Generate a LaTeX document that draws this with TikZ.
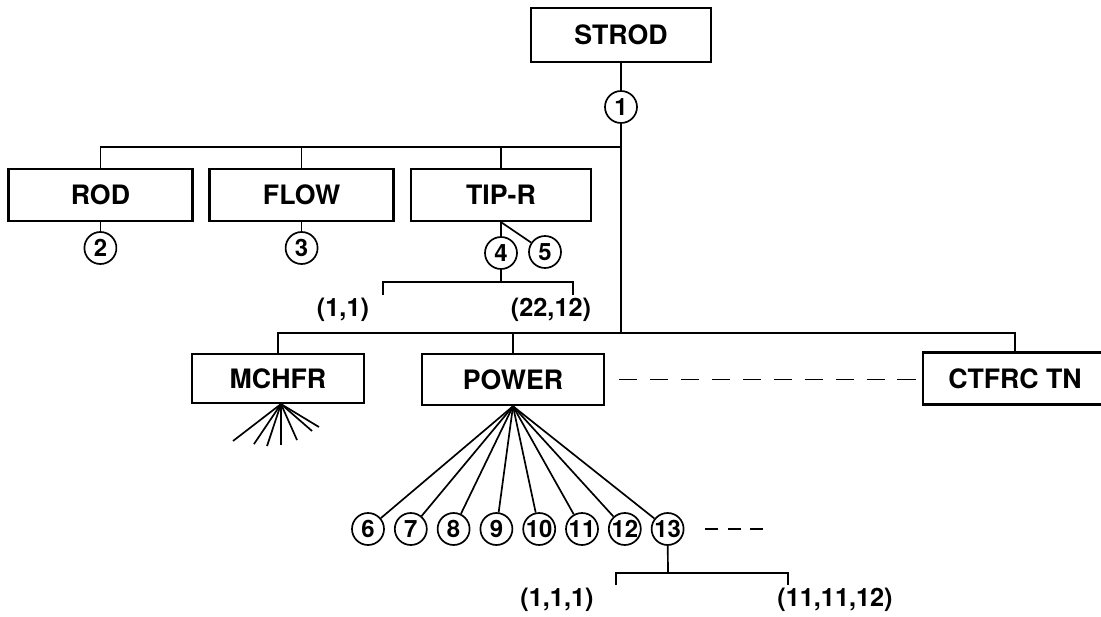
\documentclass[tikz,border=0pt]{standalone}
\usepackage{fontspec}
\setmainfont{TeX Gyre Heros}
\usetikzlibrary{positioning}

\tikzset{
  block/.style={draw, line width=1.6pt, minimum width=4.6cm, minimum height=1.3cm,
    inner sep=2pt, font=\fontsize{19}{22}\selectfont\bfseries},
  num/.style={draw, circle, line width=1.2pt, minimum size=0.8cm, inner sep=0pt,
    font=\fontsize{17}{20}\selectfont\bfseries},
  lbl/.style={font=\fontsize{18}{21}\selectfont\bfseries},
  link/.style={line width=1.2pt},
}

\begin{document}
\begin{tikzpicture}
	\useasboundingbox (0,0) rectangle (27.525,15.4);
	
	% top level
	\node[block, minimum width=4.5cm, minimum height=1.35cm] (strod) at (15.525,14.525) {STROD};
	\node[num] (c1) at (15.525,12.725) {1};
	
	% first row
	\node[block] (rod) at (2.51,10.525) {ROD};
	\node[block] (flow) at (7.54,10.525) {FLOW};
	\node[block, minimum width=4.5cm] (tipr) at (12.525,10.525) {TIP-R};
	
	\node[num] (c2) at (2.51,9.2) {2};
	\node[num] (c3) at (7.54,9.2) {3};
	\node[num] (c4) at (12.525,9.075) {4};
	\node[num] (c5) at (13.625,9.1) {5};
	
	% second row
	\node[block, minimum width=4.3cm, minimum height=1.225cm] (mchfr) at (6.95,5.94) {MCHFR};
	\node[block, minimum width=4.55cm, minimum height=1.275cm] (power) at (12.825,5.91) {POWER};
	\node[block] (ctfrc) at (25.375,5.94) {CTFRC TN};
	
	% bus lines
	\coordinate (topbus) at (15.525,11.725);
	\coordinate (lowbus) at (15.525,7.075);
	
	\draw[link] (strod) -- (c1);
	\draw[link] (c1) -- (lowbus);
	\draw[link] (rod.north) |- (topbus);
	\draw[link] (flow.north) -- (flow.north |- topbus);
	\draw[link] (tipr.north) -- (tipr.north |- topbus);
	\draw[link] (mchfr.north) |- (ctfrc.north |- lowbus) -- (ctfrc.north);
	\draw[link] (power.north) -- (power.north |- lowbus);
	
	\draw[link] (rod) -- (c2);
	\draw[link] (flow) -- (c3);
	\draw[link] (tipr) -- (c4);
	\draw[link] (tipr.south) -- (c5);
	
	% index range of TIP-R
	\coordinate (tipbr) at (12.525,8.35);
	\coordinate (tipL) at (9.575,8.025);
	\coordinate (tipR) at (14.325,8.025);
	\draw[link] (c4) -- (tipbr);
	\draw[link] (tipL) |- (tipbr) -| (tipR);
	\node[lbl] (l11) at (8.575,7.65) {(1,1)};
	\node[lbl] (l2212) at (13.775,7.65) {(22,12)};
	
	\draw[link, dash pattern=on 13pt off 9pt] ([xshift=0.35cm]power.east) -- (power.east -| ctfrc.west);
	
	% MCHFR fan
	\foreach \a/\l in {217.6/1.515, 236/1.21, 251.6/1.107, 270/1.025, 294/0.985, 319/1.03, 328.8/1.11}
		\draw[link] ([xshift=0.075cm]mchfr.south) -- ++(\a:\l);
	
	% POWER fan
	\foreach \n [count=\i from 0] in {6,...,13}
		\node[num] (c\n) at ({9.2+1.07*\i},2.175) {\n};
	\foreach \n in {6,...,13}
		\draw[link] (power.south) -- (c\n);
	\draw[link, dash pattern=on 9pt off 7pt] ([xshift=0.525cm]c13.east) -- ++(1.45,0);
	
	% index range of 13
	\coordinate (pbr) at (16.7,1.075);
	\coordinate (pL) at (15.4,0.775);
	\coordinate (pR) at (19.7,0.775);
	\draw[link] (c13) -- (pbr);
	\draw[link] (pL) |- (pbr) -| (pR);
	\node[lbl] (l111) at (13.925,0.4) {(1,1,1)};
	\node[lbl] (l111112) at (20.875,0.4) {(11,11,12)};
	
\end{tikzpicture}
\end{document}
